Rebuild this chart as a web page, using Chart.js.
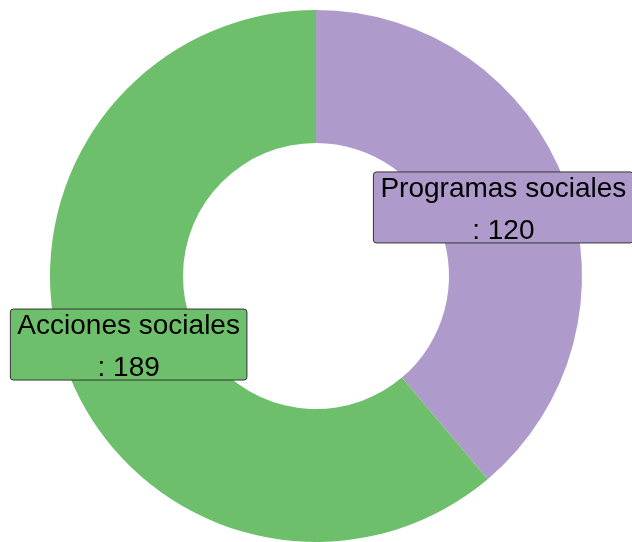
<!DOCTYPE html>
<html>
<head>
<meta charset="utf-8">
<script src="https://cdn.jsdelivr.net/npm/chart.js@4"></script>
<style>
  html, body { margin: 0; padding: 0; background: #ffffff; }
  #wrap { width: 632px; height: 542px; position: relative; }
</style>
</head>
<body>
<div id="wrap"><canvas id="c" width="632" height="542"></canvas></div>
<script>
const categories = ["Programas sociales", "Acciones sociales"];
const values = [120, 189];
const colors = ["#ae9bcb", "#6ebf6b"];

const boxLabels = {
  id: 'boxLabels',
  afterDatasetsDraw(chart) {
    const ctx = chart.ctx;
    const meta = chart.getDatasetMeta(0);
    ctx.save();
    ctx.font = '28px "Liberation Sans", Arial, sans-serif';
    ctx.textAlign = 'center';
    ctx.textBaseline = 'alphabetic';
    meta.data.forEach((arc, i) => {
      const p = arc.tooltipPosition();
      const l1 = categories[i];
      const l2 = ': ' + values[i];
      const w = Math.max(ctx.measureText(l1).width, ctx.measureText(l2).width) + 14;
      const h = 71;
      const x = p.x - w / 2;
      const y = p.y - h / 2;
      ctx.beginPath();
      ctx.roundRect(x, y, w, h, 3);
      ctx.fillStyle = colors[i];
      ctx.fill();
      ctx.lineWidth = 1;
      ctx.strokeStyle = '#333333';
      ctx.stroke();
      ctx.fillStyle = '#000000';
      ctx.fillText(l1, p.x, y + 25);
      ctx.fillText(l2, p.x, y + 67);
    });
    ctx.restore();
  }
};

new Chart(document.getElementById('c'), {
  type: 'doughnut',
  data: {
    labels: categories,
    datasets: [{
      data: values,
      backgroundColor: colors,
      borderWidth: 0
    }]
  },
  options: {
    responsive: false,
    animation: false,
    cutout: '50%',
    layout: { padding: { top: 10, bottom: -2, left: 0, right: -2 } },
    plugins: {
      legend: { display: false },
      tooltip: { enabled: false }
    },
    events: []
  },
  plugins: [boxLabels]
});
</script>
</body>
</html>
